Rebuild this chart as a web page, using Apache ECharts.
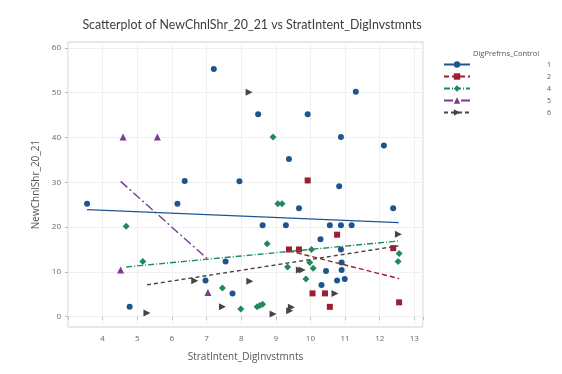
<!DOCTYPE html>
<html>
<head>
<meta charset="utf-8">
<script src="https://cdn.jsdelivr.net/npm/echarts@6/dist/echarts.min.js"></script>
<style>
  html, body { margin: 0; padding: 0; background: #fff; }
  #chart { width: 562px; height: 374px; }
</style>
</head>
<body>
<div id="chart"></div>
<script>
// Control groups shown in the legend
const groups = ['1', '2', '4', '5', '6'];

// [StratIntent_DigInvstmnts, NewChnlShr_20_21] per group
const pts1 = [
  [3.55, 25.2], [7.21, 55.3], [6.37, 30.3], [7.95, 30.2], [6.16, 25.2],
  [7.55, 12.3], [6.97, 8.1], [7.75, 5.2], [4.78, 2.2], [8.49, 45.2],
  [9.92, 45.2], [10.88, 40.1], [11.31, 50.2], [12.12, 38.2], [9.38, 35.2],
  [10.83, 29.1], [9.67, 24.2], [12.39, 24.2], [8.62, 20.4], [9.29, 20.4],
  [10.56, 20.4], [10.88, 20.4], [11.19, 20.4], [10.29, 17.3], [10.88, 15.0],
  [10.9, 12.1], [10.45, 10.2], [10.9, 10.4], [10.77, 8.1], [10.99, 8.4],
  [10.32, 7.1]
];
const pts2 = [
  [9.92, 30.4], [10.77, 18.3], [9.38, 15.0], [9.67, 15.0], [12.39, 15.3],
  [10.06, 5.2], [10.42, 5.2], [10.56, 2.2], [12.56, 3.2]
];
const pts4 = [
  [4.68, 20.2], [5.16, 12.3], [7.46, 6.4], [7.99, 1.7], [8.46, 2.2],
  [8.54, 2.5], [8.62, 2.8], [8.92, 40.1], [9.06, 25.2], [9.18, 25.2],
  [8.75, 16.3], [10.03, 15.0], [12.56, 14.1], [12.53, 12.3], [9.34, 11.1],
  [9.98, 12.1], [10.08, 10.8], [9.87, 8.4]
];
const pts5 = [
  [4.52, 10.4], [4.59, 40.1], [5.58, 40.1], [7.04, 5.4]
];
const pts6 = [
  [5.28, 0.8], [6.66, 8.0], [7.46, 2.2], [8.23, 50.1], [8.25, 7.9],
  [8.92, 0.6], [9.45, 2.1], [9.4, 1.3], [9.68, 10.4], [9.76, 10.4],
  [10.71, 5.2], [12.54, 18.4]
];

// Fitted line ends for each group
const fit1 = [[3.55, 23.9], [12.55, 21.0]];
const fit2 = [[9.38, 14.7], [12.56, 8.5]];
const fit4 = [[4.68, 11.1], [12.56, 16.9]];
const fit5 = [[4.52, 30.2], [7.04, 12.8]];
const fit6 = [[5.28, 7.1], [12.54, 15.8]];

const yTicks = [0, 10, 20, 30, 40, 50, 60];
const xTicks = [4, 5, 6, 7, 8, 9, 10, 11, 12, 13];

const points = [pts1, pts2, pts4, pts5, pts6];
const fits = [fit1, fit2, fit4, fit5, fit6];

const colors = ['#1f558f', '#9e1d30', '#1f8a5c', '#7b3b92', '#454545'];
const symbols = ['circle', 'rect', 'diamond', 'triangle', 'triangle'];
const rotations = [0, 0, 0, 0, -90];
const sizes = [6, 6, 7, 7, 7];
const dashes = ['solid', [5, 3], [6, 2, 1, 2], [9, 3, 2, 3], [4, 3]];

const series = [];
groups.forEach((g, i) => {
  series.push({
    name: g,
    type: 'line',
    data: fits[i],
    symbol: symbols[i],
    symbolSize: sizes[i],
    symbolRotate: rotations[i],
    showSymbol: false,
    color: colors[i],
    lineStyle: { color: colors[i], width: 1.4, type: dashes[i] },
    z: 3,
    silent: true,
    animation: false
  });
  series.push({
    name: g,
    type: 'scatter',
    data: points[i],
    symbol: symbols[i],
    symbolSize: sizes[i],
    symbolRotate: rotations[i],
    itemStyle: { color: colors[i], opacity: 1 },
    z: 2,
    animation: false
  });
});

const chart = echarts.init(document.getElementById('chart'), null, { renderer: 'canvas' });
chart.setOption({
  backgroundColor: '#ffffff',
  animation: false,
  title: [{
    text: 'Scatterplot of NewChnlShr_20_21 vs StratIntent_DigInvstmnts',
    left: 247,
    textAlign: 'center',
    top: 14,
    textStyle: { fontFamily: 'Lato', fontSize: 12.4, fontWeight: 'normal', color: '#3d3d3d' }
  }, {
    text: 'DigPrefrns_Control',
    left: 468,
    top: 45,
    textStyle: { fontFamily: 'Open Sans', fontSize: 7.5, fontWeight: 'normal', color: '#555' }
  }],
  grid: { left: 68, right: 139, top: 42, bottom: 47, show: true, borderColor: '#cfcfcf', borderWidth: 1 },
  legend: {
    orient: 'vertical',
    left: 438,
    top: 56,
    itemWidth: 26,
    itemHeight: 8,
    itemGap: 5,
    data: groups,
    formatter: '{n|{name}}',
    textStyle: {
      fontFamily: 'Open Sans', fontSize: 7, color: '#555',
      rich: { n: { width: 76, align: 'right', fontFamily: 'Open Sans', fontSize: 7, color: '#555' } }
    }
  },
  xAxis: {
    type: 'value',
    min: 3,
    max: 13.25,
    interval: 1,
    name: 'StratIntent_DigInvstmnts',
    nameLocation: 'middle',
    nameGap: 25,
    nameTextStyle: { fontFamily: 'Open Sans', fontSize: 10, color: '#555' },
    axisLine: { show: false },
    axisTick: { show: true, length: 3, lineStyle: { color: '#bbb' } },
    axisLabel: {
      fontFamily: 'Open Sans', fontSize: 8, color: '#666', margin: 8,
      formatter: v => (xTicks.indexOf(v) >= 0 ? String(v) : '')
    },
    splitLine: { show: true, lineStyle: { color: '#f0f0f0', width: 1 } }
  },
  yAxis: {
    type: 'value',
    min: -2.3,
    max: 61.3,
    name: 'NewChnlShr_20_21',
    nameLocation: 'middle',
    nameGap: 23,
    nameTextStyle: { fontFamily: 'Open Sans', fontSize: 10, color: '#555' },
    axisLine: { show: false },
    axisTick: { show: true, length: 3, customValues: yTicks, lineStyle: { color: '#bbb' } },
    axisLabel: { fontFamily: 'Open Sans', fontSize: 8, color: '#666', margin: 7, customValues: yTicks },
    splitLine: { show: true, lineStyle: { color: '#f0f0f0', width: 1 } }
  },
  series: series
});
</script>
</body>
</html>
